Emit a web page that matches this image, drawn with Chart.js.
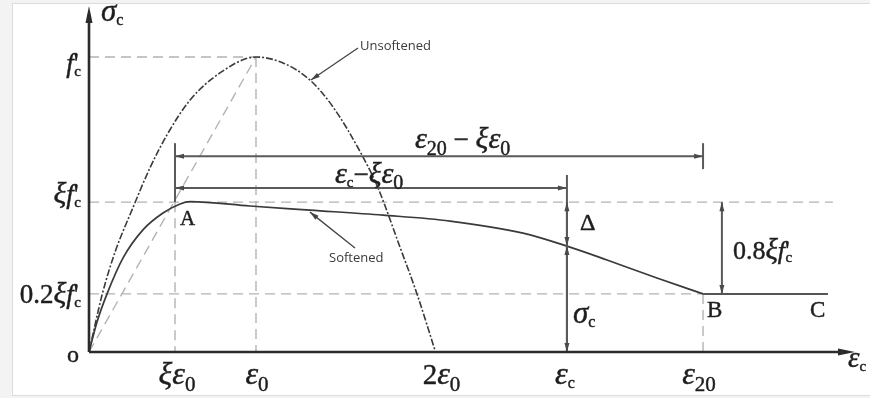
<!DOCTYPE html>
<html>
<head>
<meta charset="utf-8">
<script src="https://cdn.jsdelivr.net/npm/chart.js@4.4.1/dist/chart.umd.min.js"></script>
<style>
  html, body { margin: 0; padding: 0; background: #f3f3f3; }
  #frame {
    position: absolute; left: 12px; top: 3px; width: 858px; height: 391px;
    background: #fff;
    border-left: 1px solid #dcdcdc; border-top: 1px solid #dcdcdc; border-bottom: 1px solid #dcdcdc;
  }
  #myChart { position: absolute; left: 0; top: 0; }
</style>
</head>
<body>
<div id="frame"></div>
<canvas id="myChart" width="870" height="398"></canvas>
<script>
// strain in units of eps0, stress in units of f'c
var strainTicks = [0.515, 1.0, 2.075, 2.862, 3.677];
var strainTickLabels = ["ξε_0", "ε_0", "2ε_0", "ε_c", "ε_20"];
var stressTicks = [1.0, 0.508, 0.197];
var stressTickLabels = ["f'_c", "ξf'_c", "0.2ξf'_c"];

var unsoftStrain = [0, 0.078, 0.156, 0.257, 0.365, 0.467, 0.605, 0.784, 1.0, 1.162, 1.323, 1.461, 1.641, 1.731, 1.862, 1.964, 2.075];
var unsoftStress = [0, 0.193, 0.339, 0.481, 0.624, 0.736, 0.854, 0.946, 1.0, 0.980, 0.922, 0.831, 0.661, 0.556, 0.356, 0.197, 0];

var softStrain = [0, 0.048, 0.108, 0.204, 0.323, 0.443, 0.545, 0.605, 0.964, 1.323, 1.760, 2.162, 2.599, 2.862, 3.102, 3.401, 3.677];
var softStress = [0, 0.102, 0.197, 0.319, 0.414, 0.471, 0.502, 0.510, 0.495, 0.481, 0.464, 0.444, 0.403, 0.359, 0.312, 0.251, 0.197];

// residual plateau B -> C
var plateauStrain = [3.677, 4.425];
var plateauStress = [0.197, 0.197];

var axisMaxStrain = 4.587;
var axisMaxStress = 1.173;

function toPoints(xs, ys) {
  return xs.map(function (x, i) { return { x: x, y: ys[i] }; });
}

var peak = { x: strainTicks[1], y: stressTicks[0] };
var pointA = { x: strainTicks[0], y: stressTicks[1] };
var pointB = { x: strainTicks[4], y: stressTicks[2] };
var sigmaAtEc = softStress[softStrain.indexOf(strainTicks[3])];

var guideColor = "#b3b3b3";
var guideDash = [10, 6];
function guide(pts) {
  return {
    data: pts, showLine: true, pointRadius: 0,
    borderColor: guideColor, borderWidth: 1.4, borderDash: guideDash
  };
}

var guides = [
  guide([{ x: 0, y: peak.y }, peak]),
  guide([peak, { x: peak.x, y: 0 }]),
  guide([{ x: 0, y: pointA.y }, { x: 4.455, y: pointA.y }]),
  guide([{ x: 0, y: pointB.y }, pointB]),
  guide([pointA, { x: pointA.x, y: 0 }]),
  guide([pointB, { x: pointB.x, y: 0 }]),
  guide([{ x: 0, y: 0 }, peak])
];

function splitLabel(str) {
  var out = [];
  var i = 0;
  while (i < str.length) {
    if (str[i] === "_") {
      var j = i + 1;
      while (j < str.length && /[0-9a-z]/.test(str[j])) j++;
      out.push({ t: str.slice(i + 1, j), sub: true });
      i = j;
    } else {
      out.push({ t: str[i], sub: false });
      i++;
    }
  }
  return out;
}

function fontFor(p, size) {
  if (p.sub) {
    var s = /[a-z]/.test(p.t) ? size * 0.56 : size * 0.74;
    return Math.round(s) + 'px "Liberation Serif"';
  }
  if (/[α-ω]/.test(p.t)) return "italic " + Math.round(size * 1.12) + 'px "Liberation Serif"';
  return (p.t === "f" ? "italic " : "") + size + 'px "Liberation Serif"';
}

function drawRich(ctx, str, x, y, size, align) {
  var parts = splitLabel(str);
  var w = 0;
  parts.forEach(function (p, i) {
    ctx.font = fontFor(p, size);
    p.w = ctx.measureText(p.t).width;
    // tuck a subscript under a preceding prime
    p.back = (p.sub && i > 0 && parts[i - 1].t === "'") ? parts[i - 1].w * 0.9 : 0;
    w += p.w - p.back;
  });
  var cx = align === "center" ? x - w / 2 : align === "right" ? x - w : x;
  ctx.textAlign = "left";
  ctx.textBaseline = "alphabetic";
  ctx.lineWidth = 0.45;
  ctx.strokeStyle = ctx.fillStyle;
  parts.forEach(function (p) {
    ctx.font = fontFor(p, size);
    cx -= p.back;
    var dy = 0;
    if (p.sub) dy = /[a-z]/.test(p.t) ? size * 0.14 : size * 0.24;
    ctx.fillText(p.t, cx, y + dy);
    ctx.strokeText(p.t, cx, y + dy);
    cx += p.w;
  });
}

function head(ctx, x, y, ang, len, wid) {
  ctx.save();
  ctx.translate(x, y);
  ctx.rotate(ang);
  ctx.beginPath();
  ctx.moveTo(0, 0);
  ctx.lineTo(-len, -wid / 2);
  ctx.lineTo(-len, wid / 2);
  ctx.closePath();
  ctx.fill();
  ctx.restore();
}

function line(ctx, x1, y1, x2, y2) {
  ctx.beginPath();
  ctx.moveTo(x1, y1);
  ctx.lineTo(x2, y2);
  ctx.stroke();
}

// double headed dimension arrow between two pixel points
function dimArrow(ctx, x1, y1, x2, y2) {
  line(ctx, x1, y1, x2, y2);
  var a = Math.atan2(y2 - y1, x2 - x1);
  head(ctx, x2, y2, a, 9, 5);
  head(ctx, x1, y1, a + Math.PI, 9, 5);
}

var sketchPlugin = {
  id: "sketch",
  afterDatasetsDraw: function (chart) {
    var ctx = chart.ctx;
    var xs = chart.scales.x, ys = chart.scales.y;
    var X = function (v) { return xs.getPixelForValue(v); };
    var Y = function (v) { return ys.getPixelForValue(v); };
    var area = chart.chartArea;
    ctx.save();

    // dimension lines
    ctx.strokeStyle = "#5a5a5a";
    ctx.fillStyle = "#4a4a4a";
    ctx.lineWidth = 2;
    line(ctx, X(pointA.x), Y(0.708), X(pointA.x), Y(pointA.y));
    line(ctx, X(pointB.x), Y(0.708), X(pointB.x), Y(0.620));
    line(ctx, X(strainTicks[3]), Y(0.600), X(strainTicks[3]), Y(0));
    dimArrow(ctx, X(pointA.x), Y(0.664), X(pointB.x), Y(0.664));
    dimArrow(ctx, X(pointA.x), Y(0.556), X(strainTicks[3]), Y(0.556));
    dimArrow(ctx, X(strainTicks[3]), Y(pointA.y), X(strainTicks[3]), Y(sigmaAtEc));
    dimArrow(ctx, X(strainTicks[3]), Y(sigmaAtEc), X(strainTicks[3]), Y(0));
    dimArrow(ctx, X(3.790), Y(pointA.y), X(3.790), Y(pointB.y));

    // axes
    ctx.strokeStyle = "#2b2b2b";
    ctx.fillStyle = "#2b2b2b";
    ctx.lineWidth = 2.6;
    line(ctx, area.left, Y(0), area.right - 8, Y(0));
    line(ctx, area.left, Y(0), area.left, area.top + 8);
    head(ctx, area.right, Y(0), 0, 17, 7);
    head(ctx, area.left, area.top, -Math.PI / 2, 17, 7);

    // pointer arrows for the curve names
    ctx.strokeStyle = "#444";
    ctx.fillStyle = "#444";
    ctx.lineWidth = 1.3;
    var u = { x: X(unsoftStrain[10]) + 1, y: Y(unsoftStress[10]) };
    line(ctx, 358, 48, u.x, u.y);
    head(ctx, u.x, u.y, Math.atan2(u.y - 48, u.x - 358), 9, 5);
    var s = { x: X(softStrain[9]), y: Y(softStress[9]) + 2 };
    line(ctx, 355, 248, s.x, s.y);
    head(ctx, s.x, s.y, Math.atan2(s.y - 248, s.x - 355), 9, 5);

    ctx.fillStyle = "#3a3a3a";
    ctx.font = '13px "Open Sans"';
    ctx.textAlign = "left";
    ctx.textBaseline = "alphabetic";
    ctx.fillText("Unsoftened", 360, 50);
    ctx.fillText("Softened", 329, 262);

    // tick labels
    ctx.fillStyle = "#1e1e1e";
    var tickShift = [2, 1, 6, -2, -4];
    strainTicks.forEach(function (v, i) {
      drawRich(ctx, strainTickLabels[i], X(v) + tickShift[i], Y(0) + 32, 29, "center");
    });
    var stressShift = [15, 1, 9];
    stressTicks.forEach(function (v, i) {
      drawRich(ctx, stressTickLabels[i], 81, Y(v) + stressShift[i], 27, "right");
    });
    drawRich(ctx, "o", 79, Y(0) + 10, 24, "right");

    // axis titles
    drawRich(ctx, "σ_c", area.left + 12, area.top + 15, 28, "left");
    drawRich(ctx, "ε_c", area.right - 7, Y(0) + 15, 26, "left");

    // points and dimension labels
    drawRich(ctx, "A", X(pointA.x) + 5, Y(pointA.y) + 23, 21, "left");
    drawRich(ctx, "B", X(pointB.x) + 4, Y(pointB.y) + 23, 23, "left");
    drawRich(ctx, "C", X(plateauStrain[1]) - 18, Y(pointB.y) + 23, 23, "left");
    drawRich(ctx, "Δ", X(strainTicks[3]) + 13, Y(pointA.y) + 28, 24, "left");
    drawRich(ctx, "σ_c", X(strainTicks[3]) + 6, Y(pointB.y) + 29, 28, "left");
    drawRich(ctx, "0.8ξf'_c", X(3.790) + 11, Y(0.33) + 4, 26, "left");
    drawRich(ctx, "ε_20 − ξε_0", 415, Y(0.664) - 8, 27, "left");
    drawRich(ctx, "ε_c−ξε_0", 335, Y(0.556) - 5, 27, "left");

    ctx.restore();
  }
};

var ctx = document.getElementById("myChart").getContext("2d");
var chart = new Chart(ctx, {
  type: "scatter",
  data: {
    datasets: [
      {
        label: "Unsoftened",
        data: toPoints(unsoftStrain, unsoftStress),
        showLine: true, pointRadius: 0,
        borderColor: "#3a3a3a", borderWidth: 1.6, borderDash: [7, 2, 2, 2],
        cubicInterpolationMode: "monotone"
      },
      {
        label: "Softened",
        data: toPoints(softStrain, softStress),
        showLine: true, pointRadius: 0,
        borderColor: "#3a3a3a", borderWidth: 1.7,
        cubicInterpolationMode: "monotone"
      },
      {
        label: "Residual",
        data: toPoints(plateauStrain, plateauStress),
        showLine: true, pointRadius: 0,
        borderColor: "#555", borderWidth: 2
      }
    ].concat(guides)
  },
  options: {
    responsive: false,
    animation: false,
    devicePixelRatio: 1,
    layout: { padding: { left: 89, right: 15, top: 6, bottom: 46 } },
    plugins: { legend: { display: false }, tooltip: { enabled: false } },
    scales: {
      x: { type: "linear", min: 0, max: axisMaxStrain, display: false },
      y: { type: "linear", min: 0, max: axisMaxStress, display: false }
    }
  },
  plugins: [sketchPlugin]
});
</script>
</body>
</html>
